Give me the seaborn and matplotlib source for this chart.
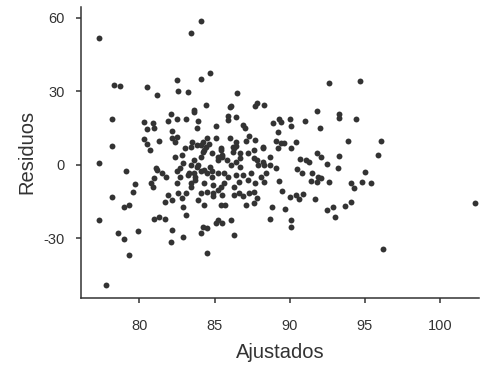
import numpy as np
import pandas as pd
import matplotlib
matplotlib.use("Agg")
import matplotlib.pyplot as plt
import seaborn as sns

# valores ajustados (eje x) y residuos (eje y)
ajustados = [
    77.3, 84.1, 83.4, 78.3, 78.7, 80.5, 81.2, 82.5, 82.6, 83.2,
    84.1, 84.7, 84.4, 83.6, 83.6, 78.2, 78.2, 80.3, 80.9, 80.5,
    81.0, 82.1, 81.9, 82.5, 83.1, 83.9, 83.8, 85.1, 82.2, 80.3,
    80.5, 81.3, 82.2, 82.5, 82.4, 83.0, 83.5, 84.1, 84.2, 84.5,
    84.6, 85.1, 86.5, 92.6, 86.1, 86.0, 87.8, 87.7, 88.3, 91.8,
    93.3, 93.3, 85.9, 85.9, 86.4, 86.9, 87.0, 88.9, 89.3, 89.4,
    90.0, 90.1, 89.2, 91.0, 92.0, 86.0, 86.4, 86.4, 87.1, 87.3,
    87.7, 88.2, 89.1, 89.4, 89.6, 90.4, 85.4, 86.2, 86.3, 94.7,
    94.4, 93.9, 96.1, 92.1, 93.3, 92.5, 93.2, 95.9, 95.0, 92.1,
    92.6, 94.1, 94.3, 94.8, 95.4, 94.1, 93.7, 92.9, 92.5, 93.0,
    102.3, 96.2, 84.8, 85.4, 85.5, 85.2, 86.2, 86.7, 87.2, 87.6,
    88.2, 87.8, 88.2, 88.3, 87.9, 87.6, 88.7, 88.7, 89.1, 90.1,
    90.7, 91.1, 91.3, 91.8, 90.5, 90.8, 91.5, 91.4, 91.9, 91.8,
    89.3, 89.5, 90.0, 90.4, 90.9, 91.7, 89.7, 90.1, 90.1, 88.8,
    88.7, 84.4, 84.2, 82.8, 85.5, 85.2, 85.8, 86.1, 86.4, 86.7,
    86.7, 83.6, 83.9, 83.6, 83.2, 84.3, 84.5, 84.8, 85.2, 85.6,
    85.9, 86.4, 86.9, 87.2, 86.6, 85.6, 84.9, 84.3, 83.7, 83.4,
    85.4, 86.3, 84.7, 89.2, 88.4, 88.1, 88.3, 87.7, 87.4, 83.1,
    82.9, 83.1, 83.9, 84.3, 84.1, 84.5, 84.9, 84.9, 85.5, 85.4,
    85.7, 86.3, 86.6, 86.9, 87.1, 87.3, 84.2, 84.5, 84.1, 85.1,
    85.5, 86.1, 82.9, 86.3, 87.6, 87.8, 87.6, 90.6, 77.3, 79.1,
    79.7, 79.6, 78.2, 79.0, 79.3, 77.3, 78.6, 79.0, 79.9, 79.3,
    77.8, 80.7, 81.1, 81.2, 81.0, 80.8, 80.9, 81.5, 81.8, 81.7,
    82.2, 81.0, 81.3, 81.7, 82.2, 82.1, 81.9, 82.6, 82.8, 82.5,
    82.7, 82.5, 82.4, 82.7, 82.9, 83.4, 83.8, 83.3, 83.7, 83.4,
    84.1, 84.8, 84.3, 83.8, 83.4, 84.1, 85.2, 84.5, 85.2,
]
residuos = [
    51.8, 58.9, 53.7, 32.7, 32.2, 31.6, 28.7, 34.6, 30.3, 29.8,
    35.0, 37.4, 24.6, 22.4, 21.5, 18.8, 7.8, 17.7, 17.0, 14.6,
    15.1, 20.8, 18.1, 18.6, 18.9, 18.1, 15.1, 15.9, 13.9, 10.6,
    8.6, 9.7, 10.9, 11.4, 9.5, 6.9, 9.5, 8.0, 9.4, 11.0,
    8.6, 11.0, 29.5, 33.5, 24.1, 23.6, 25.2, 24.1, 24.6, 22.2,
    20.7, 19.1, 20.1, 18.4, 19.5, 16.3, 15.1, 17.0, 18.8, 17.7,
    18.9, 15.9, 13.6, 18.1, 15.0, 10.9, 9.5, 7.8, 9.9, 11.6,
    10.2, 7.2, 9.9, 8.9, 9.1, 9.5, 6.8, 7.5, 6.8, 34.4,
    18.6, 9.9, 9.7, 3.1, 3.7, 0.4, -1.4, 4.1, -3.1, -5.2,
    -6.8, -7.2, -9.5, -7.1, -7.5, -15.2, -16.9, -17.1, -18.6, -21.2,
    -15.6, -34.4, 5.0, 6.1, 4.1, 3.4, 5.2, 5.0, 4.8, 6.1,
    6.8, 2.0, 1.3, 0.0, 0.0, 2.7, 3.4, 0.0, -1.4, 6.8,
    2.3, 1.8, 1.3, 5.0, -1.8, -3.4, -3.4, -6.4, -4.8, -6.8,
    -6.4, -10.5, -13.2, -12.2, -11.8, -13.9, -18.0, -22.4, -25.4, -17.0,
    -21.9, 7.5, 5.4, 4.1, 3.4, 2.0, 2.0, 0.0, 1.3, 2.7,
    -0.7, 2.0, 0.0, -3.4, -4.1, -2.0, -3.4, -4.8, -3.4, -3.4,
    -4.8, -4.1, -4.1, -6.1, -6.8, -7.5, -8.2, -7.5, -6.1, -8.9,
    -8.9, -8.9, -0.7, 6.8, -3.4, -4.8, -6.8, -7.5, -3.4, -11.6,
    -17.0, -20.4, -14.3, -16.3, -11.6, -10.9, -11.6, -12.9, -12.2, -16.3,
    -16.3, -12.2, -11.6, -12.9, -16.3, -11.6, -25.2, -25.9, -27.9, -23.8,
    -23.8, -22.4, -29.3, -28.6, -10.9, -13.6, -15.6, -14.0, 0.7, -2.3,
    -7.8, -10.9, -13.3, -17.4, -16.5, -22.4, -27.9, -30.3, -26.9, -36.7,
    -49.1, 6.1, -1.4, -2.0, -5.4, -7.5, -8.9, -3.4, -4.8, -15.0,
    -14.3, -22.2, -21.3, -21.9, -26.5, -31.3, -12.2, -11.6, -13.6, -7.5,
    -4.8, -2.7, 3.4, -1.3, 0.7, 0.0, -0.7, -3.4, -4.8, -7.5,
    -2.7, -2.7, 6.1, 8.2, 7.5, 3.4, -10.2, -35.8, -22.4,
]

xticks = [80, 85, 90, 95, 100]
yticks = [-30, 0, 30, 60]

df = pd.DataFrame({"Ajustados": ajustados, "Residuos": residuos})

sns.set_style("ticks")
plt.rcParams["font.family"] = ["Liberation Sans", "DejaVu Sans"]
plt.rcParams["axes.unicode_minus"] = False

fig = plt.figure(figsize=(4.81, 3.65), dpi=100)
ax = fig.add_axes([0.168, 0.184, 0.828, 0.797])
sns.scatterplot(data=df, x="Ajustados", y="Residuos", ax=ax,
                color="#333333", s=18, linewidth=0, alpha=1)

ax.set_xlim(76.1, 102.6)
ax.set_ylim(-54.3, 64.5)
ax.set_xticks(xticks)
ax.set_yticks(yticks)
sns.despine(ax=ax)
for side in ["left", "bottom"]:
    ax.spines[side].set_color("#333333")
    ax.spines[side].set_linewidth(1.1)
ax.tick_params(axis="both", colors="#333333", length=3.5, width=1.1,
               labelsize=10.5, labelcolor="#333333")
ax.tick_params(axis="x", pad=12)
ax.tick_params(axis="y", pad=8)
ax.set_xlabel("Ajustados", fontsize=14.5, color="#333333", labelpad=7)
ax.set_ylabel("Residuos", fontsize=14.5, color="#333333", labelpad=5)

fig.savefig("out.png", dpi=100)
